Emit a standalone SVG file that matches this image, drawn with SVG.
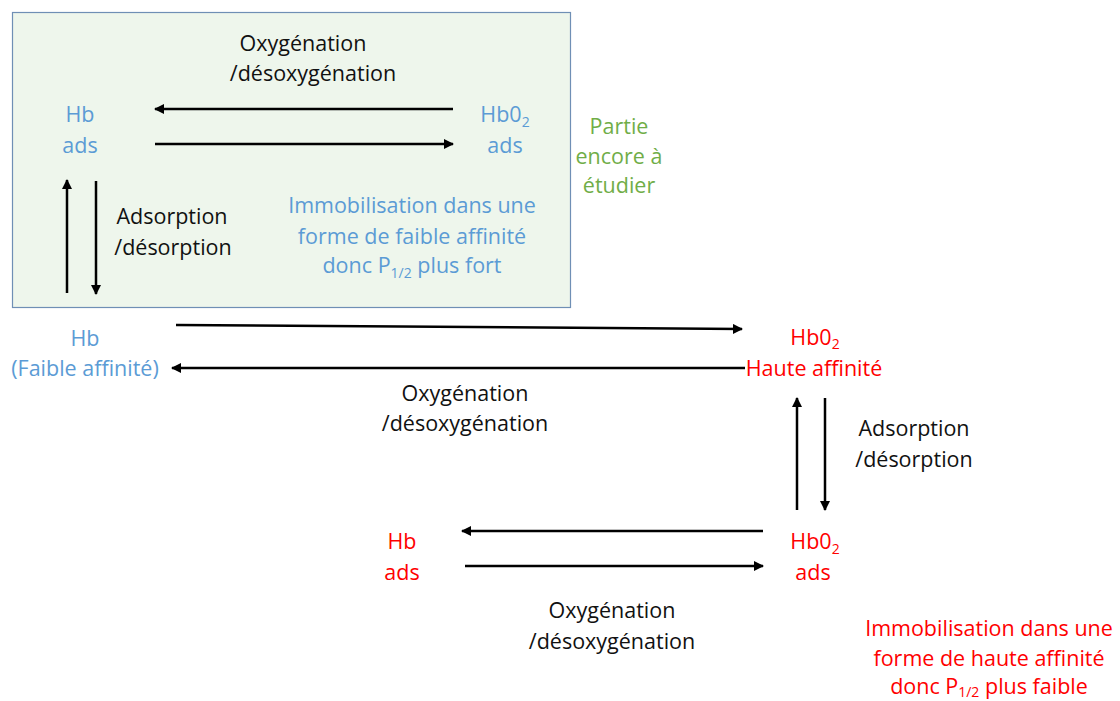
<svg xmlns="http://www.w3.org/2000/svg" width="1120" height="701" viewBox="0 0 1120 701">
<defs>
<marker id="ah" viewBox="0 0 10 10" refX="9" refY="5" markerWidth="4" markerHeight="4" orient="auto" markerUnits="strokeWidth">
<path d="M0,0 L10,5 L0,10 z" fill="#000"/>
</marker>
<style>
text{font-family:"Open Sans","Liberation Sans",sans-serif;font-size:21.5px;text-anchor:middle}
.k{fill:#111}
.b{fill:#5B9BD5}
.g{fill:#70AD47}
.r{fill:#FF0000}
.a{stroke:#000;stroke-width:2.5;fill:none;marker-end:url(#ah)}
</style>
</defs>
<rect x="0" y="0" width="1120" height="701" fill="#fff"/>
<g id="box"><rect x="12.5" y="12.5" width="558" height="295" fill="#EEF6EC" stroke="#6F8FB5" stroke-width="1.2"/></g>
<g id="connectors">
<line class="a" x1="453" y1="109" x2="155" y2="109"/>
<line class="a" x1="155" y1="144" x2="453" y2="144"/>
<line class="a" x1="67" y1="293" x2="67" y2="180"/>
<line class="a" x1="96" y1="181" x2="96" y2="294"/>
<line class="a" x1="176" y1="325" x2="742" y2="329"/>
<line class="a" x1="745" y1="368" x2="172" y2="368"/>
<line class="a" x1="797" y1="510" x2="797" y2="398"/>
<line class="a" x1="825" y1="398" x2="825" y2="510"/>
<line class="a" x1="763" y1="531" x2="462" y2="531"/>
<line class="a" x1="465" y1="566" x2="763" y2="566"/>
</g>
<g id="lbl-top"><text class="k" x="303" y="51">Oxygénation</text><text class="k" x="313" y="81">/désoxygénation</text></g>
<g id="hb-ads-top"><text class="b" x="80" y="122">Hb</text><text class="b" x="80" y="153">ads</text></g>
<g id="hbo2-ads-top"><text class="b" x="505" y="122">Hb0<tspan font-size="14" dy="5">2</tspan></text><text class="b" x="505" y="153">ads</text></g>
<g id="lbl-ads-top"><text class="k" x="172" y="224">Adsorption</text><text class="k" x="173" y="255">/désorption</text></g>
<g id="note-top"><text class="b" x="412" y="213">Immobilisation dans une</text><text class="b" x="412" y="244">forme de faible affinité</text><text class="b" x="412" y="273">donc P<tspan font-size="14" dy="5">1/2</tspan><tspan dy="-5"> plus fort</tspan></text></g>
<g id="partie"><text class="g" x="619" y="134">Partie</text><text class="g" x="619" y="164">encore à</text><text class="g" x="619" y="193">étudier</text></g>
<g id="hb-faible"><text class="b" x="85" y="346">Hb</text><text class="b" x="85" y="376">(Faible affinité)</text></g>
<g id="hbo2-haute"><text class="r" x="815" y="345">Hb0<tspan font-size="14" dy="4">2</tspan></text><text class="r" x="814" y="376">Haute affinité</text></g>
<g id="lbl-mid"><text class="k" x="465" y="401">Oxygénation</text><text class="k" x="465" y="431">/désoxygénation</text></g>
<g id="lbl-ads-right"><text class="k" x="914" y="436">Adsorption</text><text class="k" x="914" y="467">/désorption</text></g>
<g id="hb-ads-bot"><text class="r" x="402" y="549">Hb</text><text class="r" x="402" y="580">ads</text></g>
<g id="hbo2-ads-bot"><text class="r" x="815" y="549">Hb0<tspan font-size="14" dy="5">2</tspan></text><text class="r" x="813" y="580">ads</text></g>
<g id="lbl-bot"><text class="k" x="612" y="618">Oxygénation</text><text class="k" x="612" y="649">/désoxygénation</text></g>
<g id="note-bot"><text class="r" x="989" y="636">Immobilisation dans une</text><text class="r" x="989" y="666">forme de haute affinité</text><text class="r" x="989" y="694">donc P<tspan font-size="14" dy="3">1/2</tspan><tspan dy="-3"> plus faible</tspan></text></g>
</svg>
